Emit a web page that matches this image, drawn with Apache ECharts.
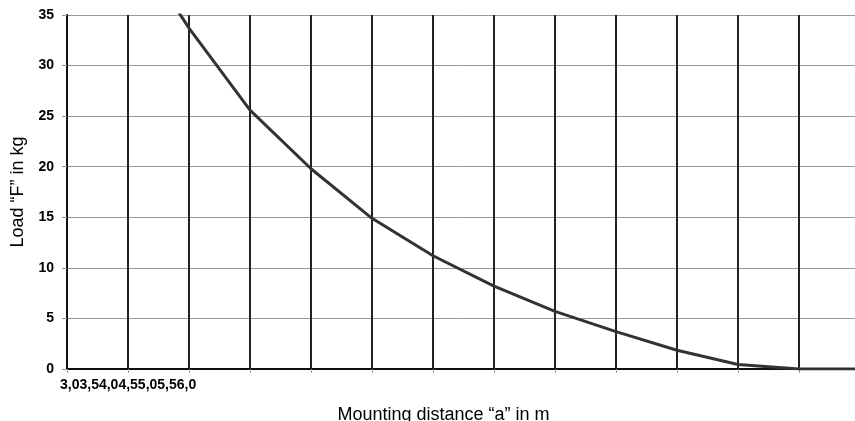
<!DOCTYPE html>
<html>
<head>
<meta charset="utf-8">
<script src="https://cdn.jsdelivr.net/npm/echarts@6/dist/echarts.min.js"></script>
<style>
html,body{margin:0;padding:0;background:#fff;}
#chart{width:855px;height:421px;}
</style>
</head>
<body>
<div id="chart"></div>
<script>
// Mounting distance "a" in m (categories)
var categories = ['3,0','3,5','4,0','4,5','5,0','5,5','6,0','6,5','7,0','7,5','8,0','8,5','9,0','9,5'];
// Labels that are actually printed (squeezed together at the left)
var shownLabels = ['3,0','3,5','4,0','4,5','5,0','5,5','6,0'];
// Load "F" in kg
var loadValues = [55, 43, 33.7, 25.6, 19.8, 14.9, 11.2, 8.2, 5.7, 3.7, 1.85, 0.45, 0, 0];
var yTicks = {min: 0, max: 35, interval: 5};

var chart = echarts.init(document.getElementById('chart'), null, {renderer: 'canvas'});
var font = 'Liberation Sans, Arial, sans-serif';
chart.setOption({
  animation: false,
  backgroundColor: '#fff',
  grid: {left: 67, top: 15, width: 793, height: 354, containLabel: false, outerBoundsMode: 'none'},
  xAxis: {
    type: 'category',
    data: categories,
    boundaryGap: false,
    name: 'Mounting distance \u201ca\u201d in m',
    nameLocation: 'middle',
    nameGap: 37,
    nameTextStyle: {fontFamily: font, fontSize: 18, color: '#000', padding: [0, 40, 0, 0], verticalAlign: 'top'},
    axisLine: {show: true, lineStyle: {color: '#111', width: 2}},
    axisTick: {show: true, length: 4, inside: false, alignWithLabel: true, lineStyle: {color: '#999', width: 1}},
    axisLabel: {
      interval: 0,
      align: 'left',
      margin: 9,
      padding: [0, 0, 0, -7],
      fontFamily: font, fontSize: 14, fontWeight: 'bold', color: '#000',
      formatter: function (v, i) { return i === 0 ? shownLabels.join('') : ''; }
    },
    splitLine: {show: true, lineStyle: {color: '#222', width: 2}}
  },
  yAxis: {
    type: 'value',
    min: yTicks.min, max: yTicks.max, interval: yTicks.interval,
    name: 'Load \u201cF\u201d in kg',
    nameLocation: 'middle',
    nameGap: 37,
    nameRotate: 90,
    nameTextStyle: {fontFamily: font, fontSize: 18, color: '#000'},
    axisLine: {show: true, lineStyle: {color: '#111', width: 2}},
    axisTick: {show: true, length: 5, lineStyle: {color: '#999', width: 1}},
    axisLabel: {margin: 13, fontFamily: font, fontSize: 14, fontWeight: 'bold', color: '#000'},
    splitLine: {show: true, lineStyle: {color: '#999', width: 1}}
  },
  series: [{
    type: 'line',
    data: loadValues,
    symbol: 'none',
    clip: true,
    lineStyle: {color: '#333', width: 3},
    z: 5
  }]
});
</script>
</body>
</html>
